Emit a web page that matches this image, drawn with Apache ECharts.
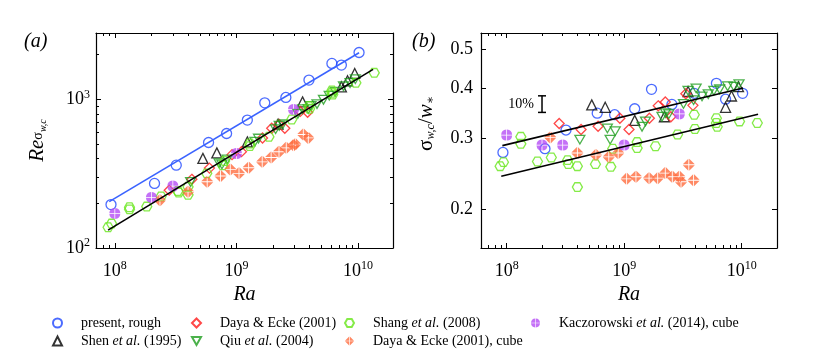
<!DOCTYPE html>
<html>
<head>
<meta charset="utf-8">
<script src="https://cdn.jsdelivr.net/npm/echarts@6/dist/echarts.min.js"></script>
<style>
  html, body { margin: 0; background: #fff; }
  #chart { width: 830px; height: 357px; }
</style>
</head>
<body>
<div id="chart"></div>
<script>
// ---- data (Ra, Re_sigma, sigma/w*) ----
const roughRa = [9.3e7, 2.12e8, 3.2e8, 5.9e8, 8.3e8, 1.23e9, 1.71e9, 2.55e9, 3.95e9, 6.1e9, 7.3e9, 1.02e10];
const roughRe = [196, 272, 361, 513, 590, 726, 949, 1031, 1349, 1747, 1702, 2070];
const roughSig = [0.277, 0.283, 0.315, 0.347, 0.344, 0.356, 0.398, 0.365, 0.389, 0.412, 0.376, 0.389];

const shenRa = [5.3e8, 6.9e8, 1.23e9, 2.2e9, 3.5e9, 7.3e9, 8.2e9, 9.4e9];
const shenRe = [401, 437, 518, 682, 963, 1216, 1335, 1496];
const shenSig = [0.364, 0.359, 0.333, 0.340, 0.393, 0.359, 0.383, 0.404];

const dayaRa = [2.8e8, 4.3e8, 6e8, 9.2e8, 1.1e9, 1.64e9, 1.95e9, 2.24e9, 2.5e9, 3.35e9, 3.85e9];
const dayaRe = [245, 290, 345, 425, 445, 550, 640, 680, 640, 830, 820];
const dayaSig = [0.327, 0.316, 0.322, 0.337, 0.316, 0.337, 0.362, 0.370, 0.340, 0.388, 0.363];

const qiuRa = [4.2e8, 7.2e8, 7.6e8, 8.4e8, 1.42e9, 1.52e9, 2.1e9, 2.25e9, 2.4e9, 3.2e9, 3.5e9, 3.9e9, 4.1e9, 4.6e9, 5.2e9, 5.8e9, 6.5e9, 7.6e9, 8.6e9, 9.5e9];
const qiuRe = [278, 372, 365, 395, 520, 545, 630, 665, 680, 800, 860, 860, 905, 930, 995, 1060, 1125, 1225, 1290, 1370];
const qiuSig = [0.298, 0.318, 0.298, 0.313, 0.321, 0.331, 0.340, 0.347, 0.345, 0.366, 0.395, 0.374, 0.400, 0.382, 0.387, 0.395, 0.398, 0.405, 0.404, 0.410];

const shangRa = [8.8e7, 9.4e7, 1.32e8, 1.32e8, 1.83e8, 2.4e8, 3.3e8, 3.35e8, 4.0e8, 4.0e8, 5.7e8, 7.7e8, 8.0e8, 1.29e9, 1.29e9, 1.85e9, 2.85e9, 3.95e9, 4.0e9, 6.1e9, 6.1e9, 6.2e9, 9.6e9, 1.36e10];
const shangRe = [138, 146, 188, 182, 190, 222, 242, 236, 258, 228, 318, 360, 385, 505, 485, 560, 733, 900, 865, 1150, 1110, 1080, 1294, 1510];
const shangSig = [0.256, 0.262, 0.303, 0.291, 0.263, 0.269, 0.265, 0.259, 0.256, 0.227, 0.259, 0.255, 0.283, 0.294, 0.284, 0.287, 0.307, 0.344, 0.317, 0.337, 0.328, 0.321, 0.331, 0.328];

const cubeRa = [2.35e8, 4.0e8, 5.75e8, 7.4e8, 8.9e8, 1.05e9, 1.26e9, 1.63e9, 1.93e9, 2.24e9, 2.57e9, 2.95e9, 3.05e9, 3.55e9, 3.9e9];
const cubeRe = [210, 239, 279, 305, 338, 318, 347, 380, 407, 444, 472, 492, 500, 581, 551];
const cubeSig = [0.302, 0.276, 0.273, 0.270, 0.276, 0.238, 0.241, 0.239, 0.239, 0.246, 0.241, 0.241, 0.234, 0.258, 0.236];

const kaczRa = [1.0e8, 2.0e8, 3.0e8, 1.0e9, 2.95e9];
const kaczRe = [171, 219, 261, 432, 857];
const kaczSig = [0.306, 0.289, 0.289, 0.289, 0.3455];

// fit lines (end points)
const fitRoughRa = [9e7, 1.02e10];
const fitRoughRe = [205, 2060];
const fitRefRa = [8.8e7, 1.33e10];
const fitRefRe = [132, 1592];
const fitUpRa = [9.2e7, 1.03e10];
const fitUpSig = [0.288, 0.401];
const fitLowRa = [9e7, 1.38e10];
const fitLowSig = [0.2417, 0.345];

// 10% error bar
const barRa = 2.0e8;
const barSig = [0.3486, 0.366, 0.3834];

// ticks
const raTicks = [1e8, 1e9, 1e10];
const reTicks = [100, 1000];
const sigTicks = [0.2, 0.3, 0.4, 0.5];

// ---- helpers ----
const SERIF = '"Liberation Serif", "DejaVu Serif", serif';
const lg = Math.log10;
const minorOf = (lo, hi) => {
  const out = [];
  for (let e = 7; e <= 10; e++)
    for (let m = 2; m <= 9; m++) {
      const v = m * Math.pow(10, e);
      if (v > lo && v < hi) out.push(lg(v));
    }
  return out;
};
const pts = (xs, ys) => xs.map((x, i) => [lg(x), lg(ys[i])]);

const HEX = "path://M10,0L5,8.66L-5,8.66L-10,0L-5,-8.66L5,-8.66Z";
const TRI_DOWN = "path://M-10,-8.66L10,-8.66L0,8.66Z";
const XDIAM = "path://M0.7,-9.3L9.3,-0.7L0.7,-0.7Z M0.7,0.7L9.3,0.7L0.7,9.3Z M-0.7,0.7L-0.7,9.3L-9.3,0.7Z M-0.7,-0.7L-9.3,-0.7L-0.7,-9.3Z";
const XCIRC = "path://M0.7,-9.97A10,10 0 0 1 9.97,-0.7L0.7,-0.7Z M9.97,0.7A10,10 0 0 1 0.7,9.97L0.7,0.7Z M-0.7,9.97A10,10 0 0 1 -9.97,0.7L-0.7,0.7Z M-9.97,-0.7A10,10 0 0 1 -0.7,-9.97L-0.7,-0.7Z";

const sets = [
  { name: "present, rough", ra: roughRa, re: roughRe, sig: roughSig, symbol: "circle", size: 10, color: "#1e46ff", hollow: true },
  { name: "Shen et al. (1995)", ra: shenRa, re: shenRe, sig: shenSig, symbol: "triangle", size: 10, color: "#000", hollow: true },
  { name: "Daya & Ecke (2001)", ra: dayaRa, re: dayaRe, sig: dayaSig, symbol: "diamond", size: 10, color: "#ff1a1a", hollow: true },
  { name: "Qiu et al. (2004)", ra: qiuRa, re: qiuRe, sig: qiuSig, symbol: TRI_DOWN, size: 10, color: "#1e9e1e", hollow: true },
  { name: "Shang et al. (2008)", ra: shangRa, re: shangRe, sig: shangSig, symbol: HEX, size: 10, color: "#66e61a", hollow: true },
  { name: "Daya & Ecke (2001), cube", ra: cubeRa, re: cubeRe, sig: cubeSig, symbol: XDIAM, size: 12, color: "#ff6b3d", hollow: false },
  { name: "Kaczorowski et al. (2014), cube", ra: kaczRa, re: kaczRe, sig: kaczSig, symbol: XCIRC, size: 11, color: "#b54df5", hollow: false },
];

// 4 axes per side pair: [main major, main minor, opposite major, opposite minor]
function axisSet(kind, grid, min, max, major, minor, label, nameOpt) {
  const sides = kind === "x" ? ["bottom", "top"] : ["left", "right"];
  const out = [];
  sides.forEach((pos, k) => {
    [major, minor].forEach((vals, m) => {
      const ax = {
        type: "value", gridIndex: grid, position: pos, min, max,
        axisLine: { show: m === 0, onZero: false, lineStyle: { color: "#000", width: 1.2 } },
        axisTick: { show: vals.length > 0, inside: true, customValues: vals, length: m === 0 ? 5 : 3, lineStyle: { color: "#000", width: 1 } },
        axisLabel: { show: false },
        splitLine: { show: false },
      };
      if (k === 0 && m === 0) {
        ax.axisLabel = Object.assign({ show: true, customValues: vals }, label);
        Object.assign(ax, nameOpt);
      }
      out.push(ax);
    });
  });
  return out;
}

const powLabel = {
  formatter: (v) => "{b|10}{s|" + Math.round(v) + "}",
  rich: {
    b: { fontFamily: SERIF, fontSize: 18, color: "#000", lineHeight: 22 },
    s: { fontFamily: SERIF, fontSize: 12, color: "#000", lineHeight: 13, verticalAlign: "top" },
  },
};
const raName = {
  name: "Ra", nameLocation: "middle", nameGap: 36,
  nameTextStyle: { fontFamily: SERIF, fontStyle: "italic", fontSize: 20, color: "#000" },
};

const xA = [lg(7e7), lg(1.94e10)];
const xB = [lg(6.05e7), lg(2e10)];
const yA = [2, lg(2800)];
const yB = [lg(0.16), lg(0.55)];

const xAxes = [
  ...axisSet("x", 0, xA[0], xA[1], raTicks.map(lg), minorOf(7e7, 1.94e10), Object.assign({ margin: 12 }, powLabel), raName),
  ...axisSet("x", 1, xB[0], xB[1], raTicks.map(lg), minorOf(6.05e7, 2e10), Object.assign({ margin: 12 }, powLabel), raName),
];
const yAxes = [
  ...axisSet("y", 0, yA[0], yA[1], reTicks.map(lg), [200, 300, 400, 500, 600, 700, 800, 900, 2000].map(lg), Object.assign({ margin: 6 }, powLabel), {
    name: "{re|Re}{s1|σ}{s2|w,c}", nameLocation: "middle", nameGap: 48,
    nameTextStyle: {
      rich: {
        re: { fontFamily: SERIF, fontStyle: "italic", fontSize: 21, color: "#000", lineHeight: 24, verticalAlign: "bottom" },
        s1: { fontFamily: SERIF, fontSize: 14, color: "#000", lineHeight: 14, verticalAlign: "bottom", padding: [0, 0, 3, 0] },
        s2: { fontFamily: SERIF, fontStyle: "italic", fontSize: 10, color: "#000", lineHeight: 10, verticalAlign: "bottom" },
      },
    },
  }),
  ...axisSet("y", 1, yB[0], yB[1], sigTicks.map(lg), [], {
    margin: 8, formatter: (v) => Math.pow(10, v).toFixed(1),
    fontFamily: SERIF, fontSize: 18, color: "#000",
  }, {
    name: "{g|σ}{s|w,c}{g|/}{w|w}{s|∗}", nameLocation: "middle", nameGap: 44,
    nameTextStyle: {
      padding: [0, 0, 0, 34],
      rich: {
        g: { fontFamily: SERIF, fontSize: 21, color: "#000", lineHeight: 24, verticalAlign: "bottom" },
        w: { fontFamily: SERIF, fontStyle: "italic", fontSize: 21, color: "#000", lineHeight: 24, verticalAlign: "bottom" },
        s: { fontFamily: SERIF, fontStyle: "italic", fontSize: 12, color: "#000", lineHeight: 12, verticalAlign: "bottom" },
      },
    },
  }),
];

const series = [];
[0, 1].forEach((g) => {
  sets.forEach((d) => {
    series.push({
      name: d.name, type: "scatter", xAxisIndex: g * 4, yAxisIndex: g * 4,
      symbol: d.symbol, symbolSize: d.size, symbolKeepAspect: true,
      itemStyle: d.hollow
        ? { color: "rgba(255,255,255,0)", borderColor: d.color, borderWidth: 1.3 }
        : { color: d.color, borderWidth: 0 },
      data: pts(d.ra, g === 0 ? d.re : d.sig),
    });
  });
});
const fit = (name, g, xs, ys, color) => ({
  name, type: "line", xAxisIndex: g * 4, yAxisIndex: g * 4, symbol: "none",
  lineStyle: { color, width: 1.6 }, data: pts(xs, ys), z: 3,
});
series.push(fit("fit rough", 0, fitRoughRa, fitRoughRe, "#3a63ff"));
series.push(fit("fit smooth", 0, fitRefRa, fitRefRe, "#000"));
series.push(fit("fit upper", 1, fitUpRa, fitUpSig, "#000"));
series.push(fit("fit lower", 1, fitLowRa, fitLowSig, "#000"));
series.push({
  name: "10% bar", type: "line", xAxisIndex: 4, yAxisIndex: 4, z: 3,
  symbol: "rect", symbolSize: [8, 1.5],
  itemStyle: { color: "#000" }, lineStyle: { color: "#000", width: 1.5 },
  label: { show: false },
  data: barSig.map((s, i) => i === 1
    ? { value: [lg(barRa), lg(s)], symbolSize: 0,
        label: { show: true, position: "left", distance: 8, formatter: "10%", fontFamily: SERIF, fontSize: 14, color: "#000" } }
    : [lg(barRa), lg(s)]),
});

const legendCols = [
  ["present, rough", "Shen et al. (1995)"],
  ["Daya & Ecke (2001)", "Qiu et al. (2004)"],
  ["Shang et al. (2008)", "Daya & Ecke (2001), cube"],
  ["Kaczorowski et al. (2014), cube"],
];
const legendLeft = [52, 191, 344, 531];

const chart = echarts.init(document.getElementById("chart"));
chart.setOption({
  animation: false,
  backgroundColor: "#fff",
  title: [
    { text: "(a)", left: 24, top: 32, padding: 0, textStyle: { fontFamily: SERIF, fontStyle: "italic", fontWeight: "normal", fontSize: 20, color: "#000" } },
    { text: "(b)", left: 412, top: 32, padding: 0, textStyle: { fontFamily: SERIF, fontStyle: "italic", fontWeight: "normal", fontSize: 20, color: "#000" } },
  ],
  grid: [
    { left: 96, top: 33, width: 297, height: 215 },
    { left: 481, top: 33, width: 296, height: 215 },
  ],
  legend: legendCols.map((names, i) => ({
    data: names, orient: "vertical", left: legendLeft[i], top: 315, padding: 0,
    itemWidth: 9, itemHeight: 9, itemGap: 2, selectedMode: false,
    formatter: (n) => n.replace("et al.", "{i|et al.}"),
    textStyle: {
      fontFamily: SERIF, fontSize: 14, color: "#000", lineHeight: 16, padding: [0, 0, 0, 14],
      rich: { i: { fontFamily: SERIF, fontStyle: "italic", fontSize: 14, color: "#000", lineHeight: 16 } },
    },
  })),
  xAxis: xAxes,
  yAxis: yAxes,
  series,
});
</script>
</body>
</html>
